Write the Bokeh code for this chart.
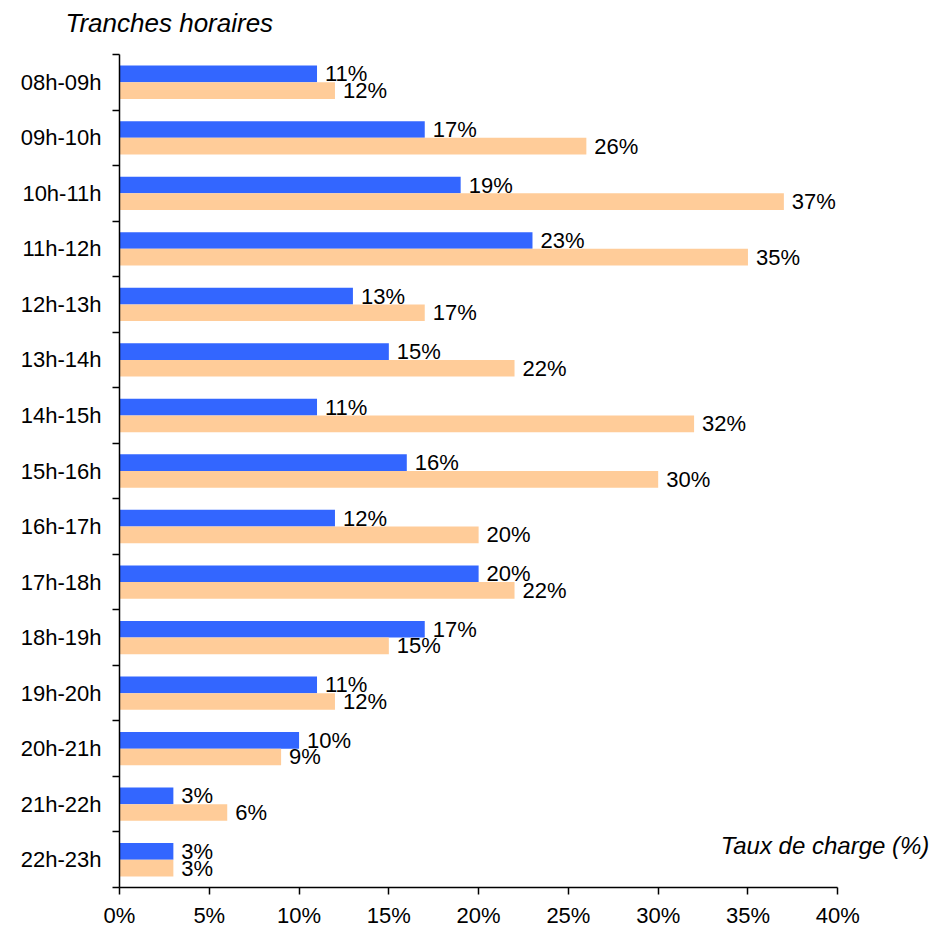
from bokeh.plotting import figure
from bokeh.models import Range1d, FixedTicker, ColumnDataSource, Label, Title
from bokeh.embed import file_html
from bokeh.resources import INLINE
from bokeh.core.properties import value

categories = ["08h-09h", "09h-10h", "10h-11h", "11h-12h", "12h-13h", "13h-14h", "14h-15h",
              "15h-16h", "16h-17h", "17h-18h", "18h-19h", "19h-20h", "20h-21h", "21h-22h", "22h-23h"]
serie_bleue = [11, 17, 19, 23, 13, 15, 11, 16, 12, 20, 17, 11, 10, 3, 3]
serie_orange = [12, 26, 37, 35, 17, 22, 32, 30, 20, 22, 15, 12, 9, 6, 3]
x_ticks = [0, 5, 10, 15, 20, 25, 30, 35, 40]

FONT = "Liberation Sans"
BLUE = "#3366FF"
ORANGE = "#FFCC99"

n = len(categories)
centers = [n - 1 - i + 0.5 for i in range(n)]
off = 0.15
bh = 0.30

p = figure(width=940, height=930, output_backend="svg", toolbar_location=None, title=None,
           x_range=Range1d(0, 45.5), y_range=Range1d(0, n),
           min_border_left=119, min_border_right=4, min_border_top=54, min_border_bottom=42)
p.outline_line_color = None
p.xgrid.grid_line_color = None
p.ygrid.grid_line_color = None
p.background_fill_color = "white"
p.border_fill_color = "white"

# spacer title (closest to the frame), then the real title above it
p.add_layout(Title(text=" ", text_font_size="1px", standoff=14), "above")
p.add_layout(Title(text="Tranches horaires", text_font=FONT, text_font_size="26px",
                   text_font_style="italic", text_color="black", align="left",
                   vertical_align="bottom", offset=-54, standoff=0), "above")

src_b = ColumnDataSource(dict(y=[c + off for c in centers], v=serie_bleue,
                              t=[f"{v}%" for v in serie_bleue]))
src_o = ColumnDataSource(dict(y=[c - off for c in centers], v=serie_orange,
                              t=[f"{v}%" for v in serie_orange]))

p.hbar(y="y", right="v", left=0, height=bh, source=src_b, fill_color=BLUE, line_color=None)
p.hbar(y="y", right="v", left=0, height=bh, source=src_o, fill_color=ORANGE, line_color=None)

for src in (src_b, src_o):
    p.text(x="v", y="y", text="t", source=src, x_offset=8, text_baseline="middle",
           text_align="left", text_font=value(FONT), text_font_size="22px", text_color="black")

# x axis
xa = p.xaxis[0]
xa.ticker = FixedTicker(ticks=x_ticks)
xa.bounds = (0, 40)
xa.major_label_overrides = {t: f"{t}%" for t in x_ticks}
xa.major_tick_out = 7
xa.major_tick_in = 0
xa.minor_tick_out = 0
xa.minor_tick_in = 0
xa.axis_line_width = 1.5
xa.major_tick_line_width = 1.5
xa.axis_line_color = "black"
xa.major_tick_line_color = "black"
xa.major_label_text_font = FONT
xa.major_label_text_font_size = "22px"
xa.major_label_text_color = "black"
xa.major_label_standoff = 8

# y axis: labels at centers, ticks at boundaries
ya = p.yaxis[0]
ya.ticker = FixedTicker(ticks=centers, minor_ticks=list(range(n + 1)))
ya.major_label_overrides = {c: categories[i] for i, c in enumerate(centers)}
ya.major_tick_out = 0
ya.major_tick_in = 0
ya.minor_tick_out = 7
ya.minor_tick_in = 0
ya.minor_tick_line_color = "black"
ya.minor_tick_line_width = 1.5
ya.axis_line_width = 1.5
ya.axis_line_color = "black"
ya.major_label_text_font = FONT
ya.major_label_text_font_size = "22px"
ya.major_label_text_color = "black"
ya.major_label_standoff = 11

p.add_layout(Label(x=45.1, y=0.75, text="Taux de charge (%)", text_font=FONT,
                   text_font_size="24px", text_font_style="italic", text_align="right",
                   text_baseline="alphabetic", text_color="black"))

open("out.html", "w").write(file_html(p, INLINE))
